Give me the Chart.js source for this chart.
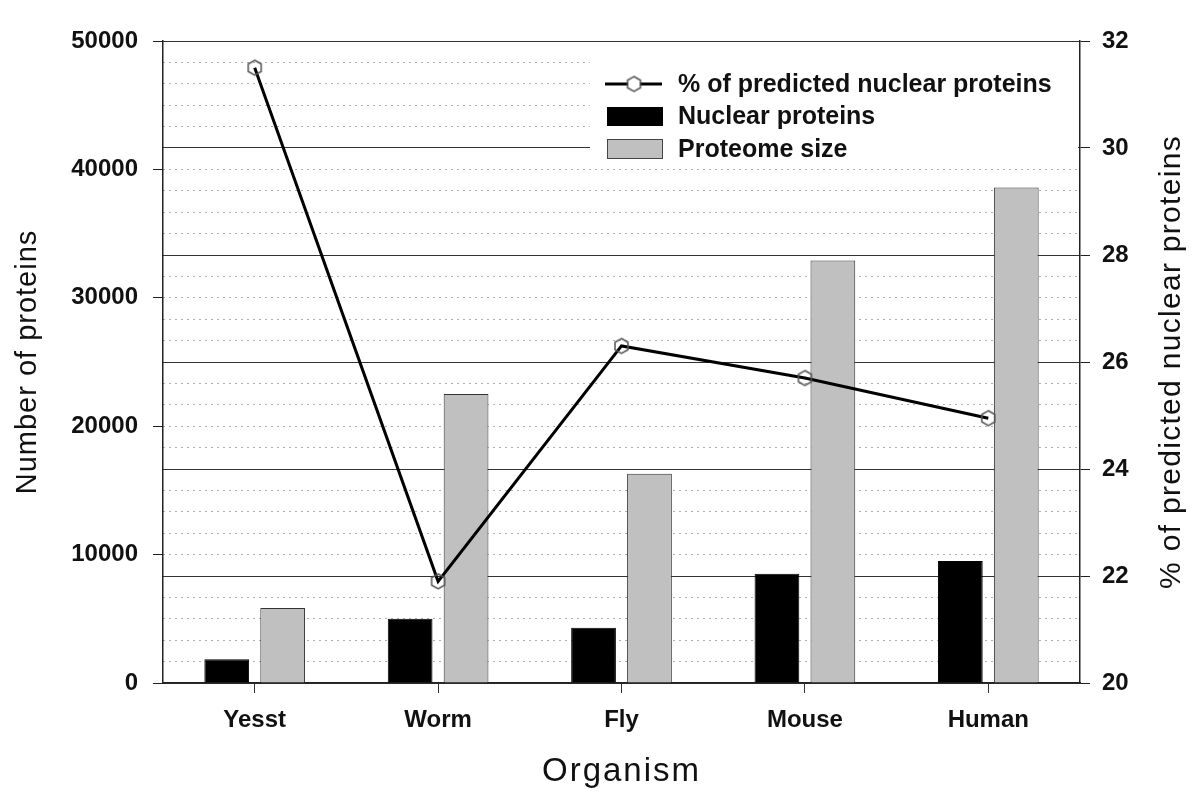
<!DOCTYPE html>
<html>
<head>
<meta charset="utf-8">
<script src="https://cdn.jsdelivr.net/npm/chart.js@4.4.0/dist/chart.umd.min.js"></script>
<style>
html,body{margin:0;padding:0;background:#fff;}
#wrap{width:1200px;height:801px;}
</style>
</head>
<body>
<div id="wrap"><canvas id="c" width="1200" height="801"></canvas></div>
<script>
// ---- data ----
const categories = ['Yesst', 'Worm', 'Fly', 'Mouse', 'Human'];
const nuclearProteins = [1850, 5000, 4300, 8500, 9500];
const proteomeSize = [5850, 22500, 16300, 32900, 38600];
const percentNuclear = [31.5, 21.9, 26.3, 25.7, 24.95];
const leftTicks = [0, 10000, 20000, 30000, 40000, 50000];
const rightTicks = [20, 22, 24, 26, 28, 30, 32];
const seriesLabels = ['% of predicted nuclear proteins', 'Nuclear proteins', 'Proteome size'];
const titleLeft = 'Number of proteins';
const titleRight = '% of predicted nuclear proteins';
const titleBottom = 'Organism';

const FONT = "'Liberation Sans', Arial, sans-serif";

function hexagon(r) {
  const s = Math.ceil(r * 2 + 4);
  const c = document.createElement('canvas');
  c.width = s; c.height = s;
  const g = c.getContext('2d');
  const cx = s / 2, cy = s / 2;
  g.beginPath();
  for (let i = 0; i < 6; i++) {
    const a = -Math.PI / 2 + i * Math.PI / 3;
    const x = cx + r * Math.cos(a), y = cy + r * Math.sin(a);
    if (i === 0) g.moveTo(x, y); else g.lineTo(x, y);
  }
  g.closePath();
  g.strokeStyle = '#555';
  g.lineWidth = 1.5;
  g.stroke();
  return c;
}
const hex = hexagon(7.5);

const titleStyle = {
  y: { spacing: '1px' },
  x: { spacing: '2px' },
  y1: { spacing: '1.3px', flip: true }
};
const titleTweak = {
  id: 'titleTweak',
  beforeDraw(chart) {
    for (const id in titleStyle) {
      const s = chart.scales[id];
      if (!s || s.__tw) continue;
      const orig = s.drawTitle;
      s.drawTitle = function () {
        const ctx = this.ctx, st = titleStyle[id];
        ctx.save();
        ctx.letterSpacing = st.spacing;
        if (st.flip) {
          const o = this.options.title;
          const f = Chart.helpers.toFont(o.font);
          const pad = Chart.helpers.toPadding(o.padding);
          const cx = this.right - (f.lineHeight / 2 + pad.top);
          const cy = (this.top + this.bottom) / 2;
          ctx.translate(cx, cy); ctx.rotate(Math.PI); ctx.translate(-cx, -cy);
        }
        orig.call(this);
        ctx.restore();
      };
      s.__tw = true;
    }
  }
};

const boxLegend = {
  id: 'boxLegend',
  afterDraw(chart) {
    const ctx = chart.ctx;
    const ds = chart.data.datasets;
    ctx.save();
    ctx.fillStyle = '#fff';
    ctx.fillRect(590, 48, 488, 118);
    ctx.font = 'bold 25px ' + FONT;
    ctx.fillStyle = '#111';
    ctx.textBaseline = 'middle';
    ctx.textAlign = 'left';
    // line entry
    ctx.strokeStyle = '#000';
    ctx.lineWidth = 3;
    ctx.beginPath(); ctx.moveTo(605, 84); ctx.lineTo(662, 84); ctx.stroke();
    ctx.fillStyle = '#fff';
    ctx.beginPath(); ctx.arc(634, 84, 6, 0, Math.PI * 2); ctx.fill();
    ctx.drawImage(hex, 634 - hex.width / 2, 84 - hex.height / 2);
    ctx.fillStyle = '#111';
    ctx.fillText(ds[0].label, 678, 85);
    // nuclear
    ctx.fillStyle = ds[1].backgroundColor;
    ctx.fillRect(607, 107, 56, 19);
    ctx.fillStyle = '#111';
    ctx.fillText(ds[1].label, 678, 117);
    // proteome
    ctx.fillStyle = ds[2].backgroundColor;
    ctx.fillRect(607, 139, 56, 20);
    ctx.strokeStyle = '#444'; ctx.lineWidth = 1;
    ctx.strokeRect(607.5, 139.5, 55, 19);
    ctx.fillStyle = '#111';
    ctx.fillText(ds[2].label, 678, 150);
    ctx.restore();
  }
};

new Chart(document.getElementById('c'), {
  data: {
    labels: categories,
    datasets: [
      {
        type: 'line', label: seriesLabels[0], data: percentNuclear, yAxisID: 'y1',
        borderColor: '#000', borderWidth: 3, tension: 0, fill: false,
        pointStyle: hex, pointRadius: 7, order: 0
      },
      {
        type: 'bar', label: seriesLabels[1], data: nuclearProteins, yAxisID: 'y',
        backgroundColor: '#000', borderColor: '#000', borderWidth: 1, order: 1,
        categoryPercentage: 0.61, barPercentage: 0.8
      },
      {
        type: 'bar', label: seriesLabels[2], data: proteomeSize, yAxisID: 'y',
        backgroundColor: '#c0c0c0', borderColor: '#333', borderWidth: 1, order: 2,
        categoryPercentage: 0.61, barPercentage: 0.8
      }
    ]
  },
  options: {
    responsive: false,
    animation: false,
    devicePixelRatio: 1,
    layout: { padding: { top: 41, left: 0, right: 0, bottom: 0 } },
    plugins: { legend: { display: false }, tooltip: { enabled: false } },
    scales: {
      x: {
        type: 'category', position: 'bottom', offset: true,
        grid: { offset: false, drawOnChartArea: false, drawTicks: true, tickLength: 10, tickColor: '#333' },
        border: { color: '#222', width: 1.5 },
        ticks: { font: { family: FONT, size: 24, weight: 'bold' }, color: '#111', padding: 13 },
        title: { display: true, text: titleBottom, font: { family: FONT, size: 33 }, color: '#111', padding: { top: 0, bottom: 9 } },
        afterFit(s) { s.height = 118; }
      },
      yMinor: {
        type: 'linear', position: 'right', min: 20, max: 32,
        ticks: { display: false, stepSize: 0.4, maxTicksLimit: 100 },
        grid: { color: '#b0b0b0', lineWidth: 1, drawTicks: false, z: -2 },
        border: { display: false, dash: [2, 4] },
        afterFit(s) { s.width = 0; }
      },
      y: {
        type: 'linear', position: 'left', min: 0, max: 50000,
        afterBuildTicks(s) { s.ticks = leftTicks.map(v => ({ value: v })); },
        ticks: { font: { family: FONT, size: 24, weight: 'bold' }, color: '#111', padding: 15, callback: v => String(v) },
        grid: { drawOnChartArea: false, drawTicks: true, tickLength: 10, tickColor: '#222' },
        border: { color: '#222', width: 1.5 },
        title: { display: true, text: titleLeft, font: { family: FONT, size: 29 }, color: '#111', padding: { top: 11, bottom: 0 } },
        afterFit(s) { s.width = 163; }
      },
      y1: {
        type: 'linear', position: 'right', min: 20, max: 32,
        afterBuildTicks(s) { s.ticks = rightTicks.map(v => ({ value: v })); },
        ticks: { font: { family: FONT, size: 24, weight: 'bold' }, color: '#111', padding: 12, callback: v => String(v) },
        grid: { drawOnChartArea: true, color: '#333', lineWidth: 1, drawTicks: true, tickLength: 10, tickColor: '#222' },
        border: { color: '#222', width: 1.5 },
        title: { display: true, text: titleRight, font: { family: FONT, size: 30 }, color: '#111', padding: { top: 10, bottom: 0 } },
        afterFit(s) { s.width = 120; }
      }
    }
  },
  plugins: [titleTweak, boxLegend]
});
</script>
</body>
</html>
